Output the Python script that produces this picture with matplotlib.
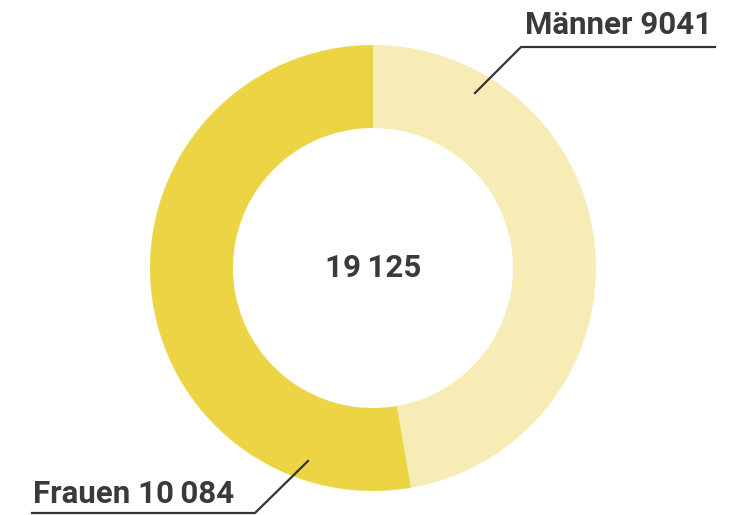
import matplotlib
matplotlib.use('Agg')
from matplotlib import pyplot as plt

# data
labels = ['Männer', 'Frauen']
values = [9041, 10084]
label_texts = ['Männer 9041', 'Frauen 10\u2009084']
total_text = '19\u2009125'
colors = ['#f7ebb6', '#ecd445']

plt.rcParams['font.family'] = ['Roboto', 'DejaVu Sans']

W, H = 744, 515
fig = plt.figure(figsize=(W / 100, H / 100), dpi=100)
ax = fig.add_axes([0, 0, 1, 1])

cx, cy = 373, H - 268
ax.pie(values, colors=colors, startangle=90, counterclock=False,
       center=(cx, cy), radius=223, frame=True,
       wedgeprops=dict(width=83, linewidth=0))
ax.set_xlim(0, W)
ax.set_ylim(0, H)
ax.set_aspect('equal')
ax.axis('off')

txt = dict(fontsize=22.5, fontweight='bold', color='#3a3a3a')
ax.text(cx, cy, total_text, ha='center', va='center', **txt)

# Beschriftungslinien
lc = '#333333'
ax.plot([715, 521, 475], [H - 47, H - 47, H - 93], color=lc, lw=1.6)
ax.text(712, H - 34, label_texts[0], ha='right', va='baseline', **txt)

ax.plot([32, 255, 308], [H - 513, H - 513, H - 461], color=lc, lw=1.6)
ax.text(33, H - 503, label_texts[1], ha='left', va='baseline', **txt)

plt.savefig('out.png', dpi=100)
